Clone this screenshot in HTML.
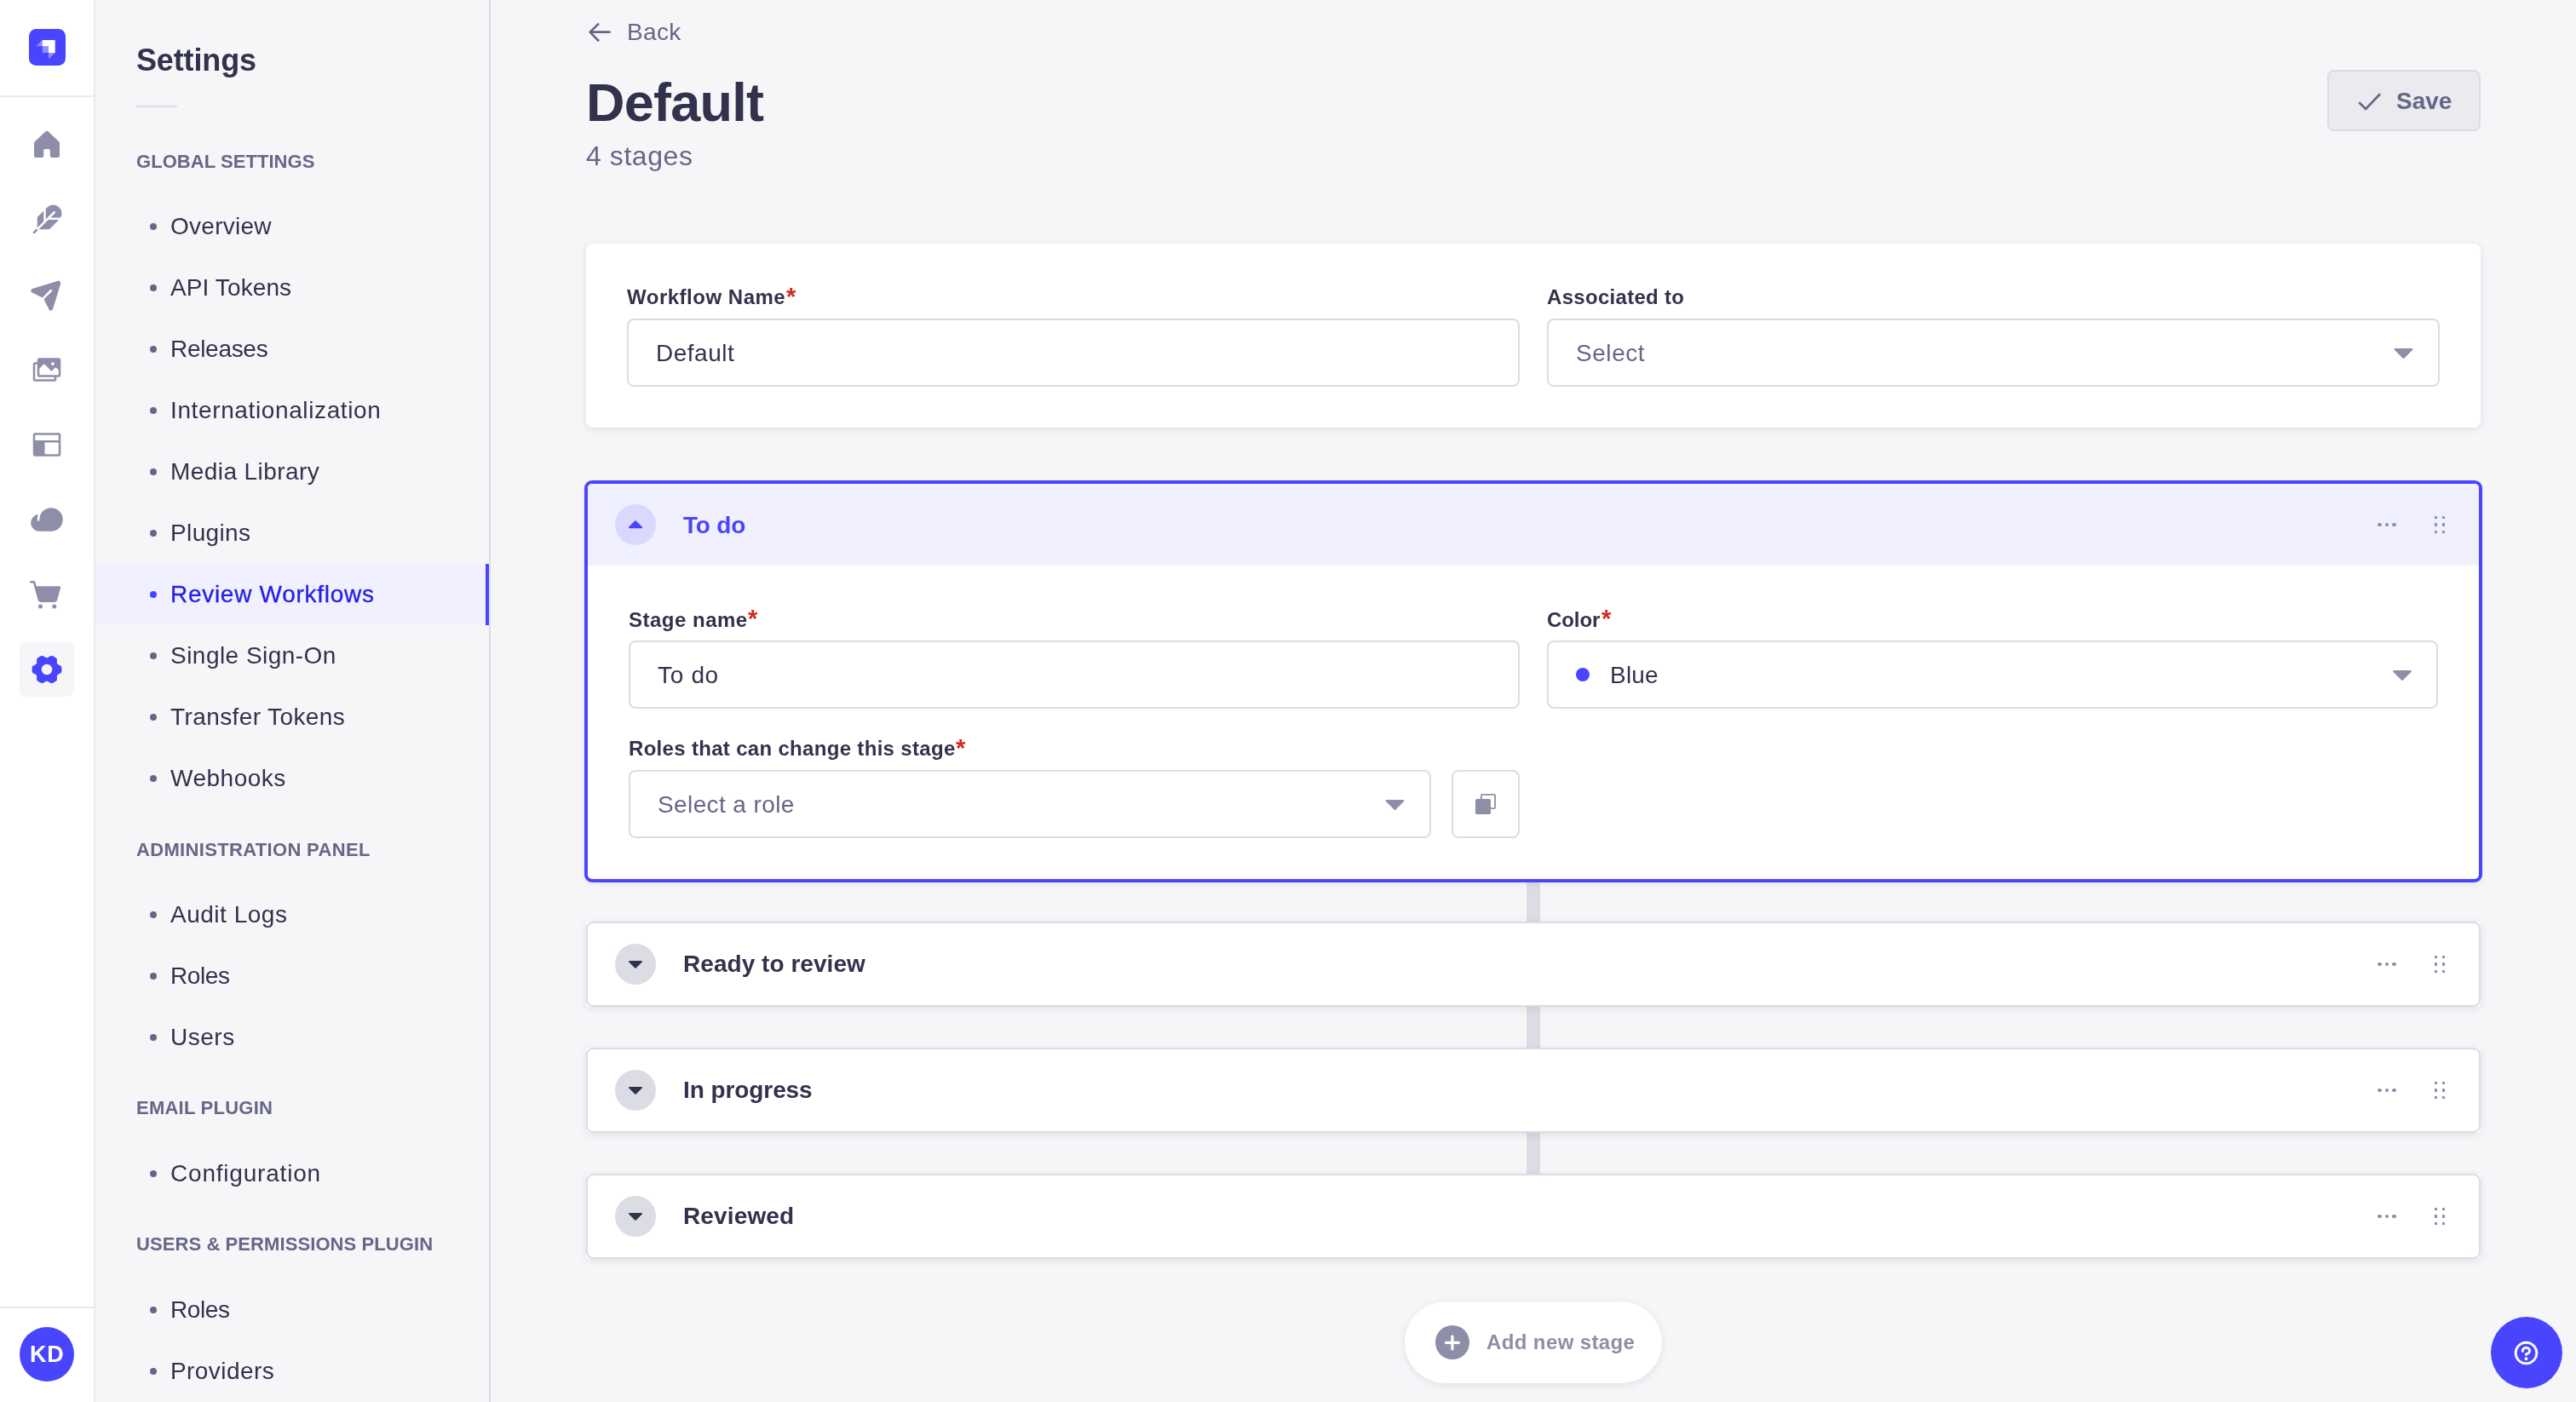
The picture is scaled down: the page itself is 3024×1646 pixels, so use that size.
<!DOCTYPE html>
<html lang="en"><head><meta charset="utf-8"><title>Review Workflows</title>
<style>
*{box-sizing:border-box;margin:0;padding:0}
html,body{width:3024px;height:1646px;overflow:hidden;background:#f6f6f9}
body{font-family:"Liberation Sans",sans-serif;color:#32324d;position:relative}
.abs{position:absolute}
.t{position:absolute;white-space:nowrap;line-height:1;will-change:transform}
#rail{position:absolute;left:0;top:0;width:112px;height:1646px;background:#fff;border-right:2px solid #eaeaef}
.hr{position:absolute;left:0;width:110px;height:2px;background:#eaeaef}
#sub{position:absolute;left:112px;top:0;width:464px;height:1646px;background:#f6f6f9;border-right:2px solid #dcdce4}
.b{position:absolute;left:176px;width:8px;height:8px;border-radius:50%;background:#666687}
.card{position:absolute;background:#fff;border-radius:8px;box-shadow:0 2px 8px rgba(33,33,52,.1)}
.inp{position:absolute;height:80px;border:2px solid #dcdce4;border-radius:8px;background:#fff}
.stage{position:absolute;left:688px;width:2224px;background:#fff;border-radius:4px;box-shadow:0 2px 8px rgba(33,33,52,.1)}
.stage:after{content:'';position:absolute;left:0;top:0;right:0;bottom:0;border:2px solid #dcdce4;border-radius:8px}
.tog{position:absolute;width:48px;height:48px;border-radius:50%;background:#dcdce4}
body.m,body.m html{background:#fff}
body.m *{visibility:hidden}
body.m .t{visibility:visible;color:#000!important}
body.m:not(.m2) .x{visibility:hidden}
body.m2 .t:not(.x){visibility:hidden}
</style></head>
<body>
<div id="rail">
<div class="abs" style="left:34px;top:34px;width:43.2px;height:43.2px;border-radius:8.5px;background:#4945ff"></div>
<svg class="abs" style="left:34px;top:34px;overflow:visible" width="44" height="44" viewBox="0 0 44 44"><path d="M15.8 13H30.7V27.9H23V20.3H15.8z" fill="#fff"/><path d="M8.3 20.35L15.8 13V20.35zM15.8 20.3H23V27.9H15.8zM23 27.9H30.7L23 35.3z" fill="#fff" opacity=".4"/></svg>
<div class="hr" style="top:112px"></div>
<svg class="abs" style="left:35px;top:150.0px" width="40" height="40" viewBox="0 0 256 256" fill="#8e8ea9"><path d="M224,115.55V208a16,16,0,0,1-16,16H168a16,16,0,0,1-16-16V168a8,8,0,0,0-8-8H112a8,8,0,0,0-8,8v40a16,16,0,0,1-16,16H48a16,16,0,0,1-16-16V115.55a16,16,0,0,1,5.17-11.78l80-75.48.11-.11a16,16,0,0,1,21.53,0,1.14,1.14,0,0,0,.11.11l80,75.48A16,16,0,0,1,224,115.55Z"/></svg>
<svg class="abs" style="left:35px;top:238.0px" width="40" height="40" viewBox="0 0 256 256" fill="#8e8ea9"><path d="M221.28,34.75a64,64,0,0,0-90.49,0L60.69,104A15.9,15.9,0,0,0,56,115.31v73.38L26.34,218.34a8,8,0,0,0,11.32,11.32L67.32,200H140.7A15.92,15.92,0,0,0,152,195.32l0,0,69.23-70A64,64,0,0,0,221.28,34.75Z"/><g fill="none" stroke="#fff" stroke-width="16"><path d="M60,196L184,72" stroke-linecap="round"/><path d="M112,40V146"/><path d="M134,120H236"/></g></svg>
<svg class="abs" style="left:35px;top:326.0px" width="40" height="40" viewBox="0 0 256 256" fill="#8e8ea9"><path d="M231.4,44.34s0,.1,0,.15l-58.2,191.94a15.88,15.88,0,0,1-14,11.51q-.69.06-1.38.06a15.86,15.86,0,0,1-14.42-9.15L107,164.15a4,4,0,0,1,.77-4.58l57.92-57.92a8,8,0,0,0-11.31-11.31L96.43,148.26a4,4,0,0,1-4.58.77L17.08,112.64a16,16,0,0,1,2.49-29.8l191.94-58.2.15,0A16,16,0,0,1,231.4,44.34Z"/></svg>
<svg class="abs" style="left:35px;top:414.0px" width="40" height="40" viewBox="0 0 256 256" fill="#8e8ea9"><path d="M216,40H72A16,16,0,0,0,56,56V72H40A16,16,0,0,0,24,88V200a16,16,0,0,0,16,16H184a16,16,0,0,0,16-16V184h16a16,16,0,0,0,16-16V56A16,16,0,0,0,216,40ZM172,72a12,12,0,1,1-12,12A12,12,0,0,1,172,72Zm12,128H40V88H56v80a16,16,0,0,0,16,16H184Zm32-32H72V120.69l30.34-30.35a8,8,0,0,1,11.32,0L163.31,140,189,114.34a8,8,0,0,1,11.31,0L216,130.07V168Z"/></svg>
<svg class="abs" style="left:35px;top:502.0px" width="40" height="40" viewBox="0 0 256 256" fill="#8e8ea9"><path d="M216,40H40A16,16,0,0,0,24,56V200a16,16,0,0,0,16,16H216a16,16,0,0,0,16-16V56A16,16,0,0,0,216,40Zm0,16V96H40V56Zm0,144H112V112H216v88Z"/></svg>
<svg class="abs" style="left:35px;top:590.0px" width="40" height="40" viewBox="0 0 256 256" fill="#8e8ea9"><path d="M160.06,40A88.1,88.1,0,0,0,81.29,88.68,64,64,0,1,0,72,216h88.06a88,88,0,0,0,0-176Z"/><path d="M78,76A96,96,0,0,0,64,131" fill="none" stroke="#fff" stroke-width="16" stroke-linecap="round"/></svg>
<svg class="abs" style="left:35px;top:678.0px" width="40" height="40" viewBox="0 0 256 256" fill="#8e8ea9"><g transform="translate(-8,1)"><path d="M104,216a16,16,0,1,1-16-16A16,16,0,0,1,104,216Zm88-16a16,16,0,1,0,16,16A16,16,0,0,0,192,200ZM239.71,74.14l-25.64,92.28A24.06,24.06,0,0,1,191,184H92.16A24.06,24.06,0,0,1,69,166.42L33.92,40H16a8,8,0,0,1,0-16H40a8,8,0,0,1,7.71,5.86L57.19,64H232a8,8,0,0,1,7.71,10.14Z"/></g></svg>
<div class="abs" style="left:23px;top:754px;width:64px;height:64px;border-radius:8px;background:#f6f6f9"></div>
<svg class="abs" style="left:35px;top:766.0px" width="40" height="40" viewBox="0 0 256 256" fill="#4945ff"><path d="M237.94,107.21a8,8,0,0,0-3.89-5.4l-29.83-17-.12-33.62a8,8,0,0,0-2.83-6.08,111.91,111.91,0,0,0-36.72-20.67,8,8,0,0,0-6.46.59L128,41.85,97.88,25a8,8,0,0,0-6.47-.6A111.92,111.92,0,0,0,54.73,45.15a8,8,0,0,0-2.83,6.07l-.15,33.65-29.83,17a8,8,0,0,0-3.89,5.4,106.47,106.47,0,0,0,0,41.56,8,8,0,0,0,3.89,5.4l29.83,17,.12,33.63a8,8,0,0,0,2.83,6.08,111.91,111.91,0,0,0,36.72,20.67,8,8,0,0,0,6.46-.59L128,214.15,158.12,231a7.91,7.91,0,0,0,3.9,1,8.09,8.09,0,0,0,2.57-.42,112.1,112.1,0,0,0,36.68-20.73,8,8,0,0,0,2.83-6.07l.15-33.65,29.83-17a8,8,0,0,0,3.89-5.4A106.47,106.47,0,0,0,237.94,107.21ZM128,168a40,40,0,1,1,40-40A40,40,0,0,1,128,168Z"/></svg>
<div class="hr" style="top:1534px"></div>
<div class="abs" style="left:23px;top:1558px;width:64px;height:64px;border-radius:50%;background:#4945ff"></div>
</div>
<div id="sub"></div>
<div class="abs" style="left:160px;top:124px;width:48px;height:2px;background:#dcdce4"></div>
<div class="abs" style="left:112px;top:662px;width:462px;height:72px;background:#f0f0ff"></div>
<div class="abs" style="left:570px;top:662px;width:4px;height:72px;background:#4945ff"></div>
<div class="b" style="top:262px"></div>
<div class="b" style="top:334px"></div>
<div class="b" style="top:406px"></div>
<div class="b" style="top:478px"></div>
<div class="b" style="top:550px"></div>
<div class="b" style="top:622px"></div>
<div class="b" style="top:694px;background:#4945ff"></div>
<div class="b" style="top:766px"></div>
<div class="b" style="top:838px"></div>
<div class="b" style="top:910px"></div>
<div class="b" style="top:1070px"></div>
<div class="b" style="top:1142px"></div>
<div class="b" style="top:1214px"></div>
<div class="b" style="top:1374px"></div>
<div class="b" style="top:1534px"></div>
<div class="b" style="top:1606px"></div>

<svg class="abs" style="left:0;top:0;overflow:visible" width="1" height="1"><path d="M716.6 37.6H693M703 27.6L692.6 37.6L703 48.3" fill="none" stroke="#666687" stroke-width="2.7" stroke-linejoin="round"/></svg>

<div class="abs" style="left:2731.5px;top:82px;width:180.5px;height:72px;border:2px solid #dcdce4;border-radius:8px;background:#eaeaef"></div>
<svg class="abs" style="left:0;top:0;overflow:visible" width="1" height="1"><path d="M2769.3 120.2L2777.2 127.9L2794.1 110.3" fill="none" stroke="#666687" stroke-width="2.7"/></svg>

<div class="card" style="left:688px;top:286px;width:2224px;height:216px"></div>
<div class="inp" style="left:736px;top:374px;width:1048px"></div>
<div class="inp" style="left:1816px;top:374px;width:1048px"></div>
<svg class="abs" style="left:0;top:0;overflow:visible" width="1" height="1"><path d="M2811.6,409.95 L2821.5,420.05 L2831.4,409.95 Z" fill="#8e8ea9" stroke="#8e8ea9" stroke-width="2" stroke-linejoin="round"/></svg>

<div class="abs" style="left:1792.3px;top:1030px;width:15.5px;height:400px;background:#dcdce4"></div>

<div class="abs" style="left:686px;top:564px;width:2228px;height:472px;border:4px solid #4945ff;border-radius:9px;background:#fff;overflow:hidden;box-shadow:0 2px 8px -2px rgba(33,33,52,.1)"><div class="abs" style="left:0;top:0;width:2220px;height:96px;background:#f0f0ff"></div></div>
<div class="tog" style="left:722px;top:592px;background:#d9d8ff"></div>
<svg class="abs" style="left:0;top:0;overflow:visible" width="1" height="1"><path d="M739.0,619.2 L746,612.2 L753.0,619.2 Z" fill="#4945ff" stroke="#4945ff" stroke-width="2" stroke-linejoin="round"/></svg>
<div class="abs" style="left:2791.4px;top:613.9px;width:4.2px;height:4.2px;border-radius:50%;background:#8e8ea9"></div><div class="abs" style="left:2799.9px;top:613.9px;width:4.2px;height:4.2px;border-radius:50%;background:#8e8ea9"></div><div class="abs" style="left:2808.4px;top:613.9px;width:4.2px;height:4.2px;border-radius:50%;background:#8e8ea9"></div><div class="abs" style="left:2857.55px;top:605.80px;width:3.6px;height:3.6px;border-radius:.6px;background:#8e8ea9"></div><div class="abs" style="left:2857.55px;top:614.30px;width:3.6px;height:3.6px;border-radius:.6px;background:#8e8ea9"></div><div class="abs" style="left:2857.55px;top:622.80px;width:3.6px;height:3.6px;border-radius:.6px;background:#8e8ea9"></div><div class="abs" style="left:2866.65px;top:605.80px;width:3.6px;height:3.6px;border-radius:.6px;background:#8e8ea9"></div><div class="abs" style="left:2866.65px;top:614.30px;width:3.6px;height:3.6px;border-radius:.6px;background:#8e8ea9"></div><div class="abs" style="left:2866.65px;top:622.80px;width:3.6px;height:3.6px;border-radius:.6px;background:#8e8ea9"></div>
<div class="inp" style="left:738px;top:752px;width:1046px"></div>
<div class="inp" style="left:1816px;top:752px;width:1046px"></div>
<div class="abs" style="left:1850px;top:784px;width:16px;height:16px;border-radius:50%;background:#4945ff"></div>
<svg class="abs" style="left:0;top:0;overflow:visible" width="1" height="1"><path d="M2810.1,787.95 L2820,798.05 L2829.9,787.95 Z" fill="#8e8ea9" stroke="#8e8ea9" stroke-width="2" stroke-linejoin="round"/></svg>
<div class="inp" style="left:738px;top:904px;width:942px"></div>
<svg class="abs" style="left:0;top:0;overflow:visible" width="1" height="1"><path d="M1627.6,939.95 L1637.5,950.05 L1647.4,939.95 Z" fill="#8e8ea9" stroke="#8e8ea9" stroke-width="2" stroke-linejoin="round"/></svg>
<div class="inp" style="left:1704px;top:904px;width:80px"></div>
<svg class="abs" style="left:1732px;top:932px" width="24" height="24" viewBox="0 0 24 24"><rect x="6.9" y="0.9" width="16.2" height="16.2" rx="1.4" fill="none" stroke="#8e8ea9" stroke-width="1.8"/><rect x="0" y="6" width="18" height="18" rx="1.6" fill="#8e8ea9"/></svg>

<div class="stage" style="top:1082px;height:100px"></div><div class="tog" style="left:722px;top:1108px"></div><svg class="abs" style="left:0;top:0;overflow:visible" width="1" height="1"><path d="M739.0,1128.9 L746,1135.9 L753.0,1128.9 Z" fill="#32324d" stroke="#32324d" stroke-width="2" stroke-linejoin="round"/></svg><div class="abs" style="left:2791.4px;top:1129.9px;width:4.2px;height:4.2px;border-radius:50%;background:#8e8ea9"></div><div class="abs" style="left:2799.9px;top:1129.9px;width:4.2px;height:4.2px;border-radius:50%;background:#8e8ea9"></div><div class="abs" style="left:2808.4px;top:1129.9px;width:4.2px;height:4.2px;border-radius:50%;background:#8e8ea9"></div><div class="abs" style="left:2857.55px;top:1121.70px;width:3.6px;height:3.6px;border-radius:.6px;background:#8e8ea9"></div><div class="abs" style="left:2857.55px;top:1130.20px;width:3.6px;height:3.6px;border-radius:.6px;background:#8e8ea9"></div><div class="abs" style="left:2857.55px;top:1138.70px;width:3.6px;height:3.6px;border-radius:.6px;background:#8e8ea9"></div><div class="abs" style="left:2866.65px;top:1121.70px;width:3.6px;height:3.6px;border-radius:.6px;background:#8e8ea9"></div><div class="abs" style="left:2866.65px;top:1130.20px;width:3.6px;height:3.6px;border-radius:.6px;background:#8e8ea9"></div><div class="abs" style="left:2866.65px;top:1138.70px;width:3.6px;height:3.6px;border-radius:.6px;background:#8e8ea9"></div>
<div class="stage" style="top:1230px;height:100px"></div><div class="tog" style="left:722px;top:1256px"></div><svg class="abs" style="left:0;top:0;overflow:visible" width="1" height="1"><path d="M739.0,1276.9 L746,1283.9 L753.0,1276.9 Z" fill="#32324d" stroke="#32324d" stroke-width="2" stroke-linejoin="round"/></svg><div class="abs" style="left:2791.4px;top:1277.9px;width:4.2px;height:4.2px;border-radius:50%;background:#8e8ea9"></div><div class="abs" style="left:2799.9px;top:1277.9px;width:4.2px;height:4.2px;border-radius:50%;background:#8e8ea9"></div><div class="abs" style="left:2808.4px;top:1277.9px;width:4.2px;height:4.2px;border-radius:50%;background:#8e8ea9"></div><div class="abs" style="left:2857.55px;top:1269.70px;width:3.6px;height:3.6px;border-radius:.6px;background:#8e8ea9"></div><div class="abs" style="left:2857.55px;top:1278.20px;width:3.6px;height:3.6px;border-radius:.6px;background:#8e8ea9"></div><div class="abs" style="left:2857.55px;top:1286.70px;width:3.6px;height:3.6px;border-radius:.6px;background:#8e8ea9"></div><div class="abs" style="left:2866.65px;top:1269.70px;width:3.6px;height:3.6px;border-radius:.6px;background:#8e8ea9"></div><div class="abs" style="left:2866.65px;top:1278.20px;width:3.6px;height:3.6px;border-radius:.6px;background:#8e8ea9"></div><div class="abs" style="left:2866.65px;top:1286.70px;width:3.6px;height:3.6px;border-radius:.6px;background:#8e8ea9"></div>
<div class="stage" style="top:1378px;height:100px"></div><div class="tog" style="left:722px;top:1404px"></div><svg class="abs" style="left:0;top:0;overflow:visible" width="1" height="1"><path d="M739.0,1424.9 L746,1431.9 L753.0,1424.9 Z" fill="#32324d" stroke="#32324d" stroke-width="2" stroke-linejoin="round"/></svg><div class="abs" style="left:2791.4px;top:1425.9px;width:4.2px;height:4.2px;border-radius:50%;background:#8e8ea9"></div><div class="abs" style="left:2799.9px;top:1425.9px;width:4.2px;height:4.2px;border-radius:50%;background:#8e8ea9"></div><div class="abs" style="left:2808.4px;top:1425.9px;width:4.2px;height:4.2px;border-radius:50%;background:#8e8ea9"></div><div class="abs" style="left:2857.55px;top:1417.70px;width:3.6px;height:3.6px;border-radius:.6px;background:#8e8ea9"></div><div class="abs" style="left:2857.55px;top:1426.20px;width:3.6px;height:3.6px;border-radius:.6px;background:#8e8ea9"></div><div class="abs" style="left:2857.55px;top:1434.70px;width:3.6px;height:3.6px;border-radius:.6px;background:#8e8ea9"></div><div class="abs" style="left:2866.65px;top:1417.70px;width:3.6px;height:3.6px;border-radius:.6px;background:#8e8ea9"></div><div class="abs" style="left:2866.65px;top:1426.20px;width:3.6px;height:3.6px;border-radius:.6px;background:#8e8ea9"></div><div class="abs" style="left:2866.65px;top:1434.70px;width:3.6px;height:3.6px;border-radius:.6px;background:#8e8ea9"></div>

<div class="abs" style="left:1649px;top:1528px;width:302px;height:96px;border-radius:48px;background:#fff;box-shadow:0 2px 8px rgba(33,33,52,.1)"></div>
<div class="abs" style="left:1685.2px;top:1556.3px;width:39.5px;height:39.5px;border-radius:50%;background:#8e8ea9"></div>
<svg class="abs" style="left:0;top:0;overflow:visible" width="1" height="1"><path d="M1704.9 1568.8V1583.8M1697.4 1576.3H1712.4" stroke="#fff" stroke-width="3.2" stroke-linecap="round"/></svg>

<div class="abs" style="left:2924px;top:1546px;width:84px;height:84px;border-radius:50%;background:#4945ff"></div>
<svg class="abs" style="left:2948.9px;top:1571.6px" width="33" height="33" viewBox="0 0 256 256" fill="#fff" stroke="#fff" stroke-width="7" stroke-linejoin="round"><path d="M140,180a12,12,0,1,1-12-12A12,12,0,0,1,140,180ZM128,72c-22.06,0-40,16.15-40,36v4a8,8,0,0,0,16,0v-4c0-11,10.77-20,24-20s24,9,24,20-10.77,20-24,20a8,8,0,0,0-8,8v8a8,8,0,0,0,16,0v-.72c18.24-3.35,32-17.9,32-35.28C168,88.15,150.06,72,128,72Zm104,56A104,104,0,1,1,128,24,104.11,104.11,0,0,1,232,128Zm-16,0a88,88,0,1,0-88,88A88.1,88.1,0,0,0,216,128Z"/></svg>

<div class="t" id="settings" style="left:160.00px;top:52.53px;font-size:36px;font-weight:bold;color:#32324d;letter-spacing:-0.143px">Settings</div>
<div class="t" id="s1" style="left:160.00px;top:178.68px;font-size:22px;font-weight:bold;color:#666687;letter-spacing:0.057px">GLOBAL SETTINGS</div>
<div class="t" id="g0" style="left:200.00px;top:252.30px;font-size:28px;font-weight:normal;color:#32324d;letter-spacing:0.271px">Overview</div>
<div class="t" id="g1" style="left:200.00px;top:324.30px;font-size:28px;font-weight:normal;color:#32324d;letter-spacing:0.111px">API Tokens</div>
<div class="t" id="g2" style="left:200.00px;top:396.30px;font-size:28px;font-weight:normal;color:#32324d;letter-spacing:-0.300px">Releases</div>
<div class="t" id="g3" style="left:200.00px;top:468.30px;font-size:28px;font-weight:normal;color:#32324d;letter-spacing:0.621px">Internationalization</div>
<div class="t" id="g4" style="left:200.00px;top:540.30px;font-size:28px;font-weight:normal;color:#32324d;letter-spacing:0.425px">Media Library</div>
<div class="t" id="g5" style="left:200.00px;top:612.30px;font-size:28px;font-weight:normal;color:#32324d;letter-spacing:0.367px">Plugins</div>
<div class="t" id="g6" style="left:200.00px;top:684.30px;font-size:28px;font-weight:normal;color:#271fe0;letter-spacing:0.713px;-webkit-text-stroke:.35px #271fe0">Review Workflows</div>
<div class="t" id="g7" style="left:200.00px;top:756.30px;font-size:28px;font-weight:normal;color:#32324d;letter-spacing:0.469px">Single Sign-On</div>
<div class="t" id="g8" style="left:200.00px;top:828.30px;font-size:28px;font-weight:normal;color:#32324d;letter-spacing:0.400px">Transfer Tokens</div>
<div class="t" id="g9" style="left:200.00px;top:900.30px;font-size:28px;font-weight:normal;color:#32324d;letter-spacing:0.500px">Webhooks</div>
<div class="t" id="s2" style="left:160.00px;top:986.68px;font-size:22px;font-weight:bold;color:#666687;letter-spacing:0.332px">ADMINISTRATION PANEL</div>
<div class="t" id="a0" style="left:200.00px;top:1060.30px;font-size:28px;font-weight:normal;color:#32324d;letter-spacing:0.511px">Audit Logs</div>
<div class="t" id="a1" style="left:200.00px;top:1132.30px;font-size:28px;font-weight:normal;color:#32324d;letter-spacing:-0.400px">Roles</div>
<div class="t" id="a2" style="left:200.00px;top:1204.30px;font-size:28px;font-weight:normal;color:#32324d;letter-spacing:0.525px">Users</div>
<div class="t" id="s3" style="left:160.00px;top:1290.48px;font-size:22px;font-weight:bold;color:#666687;letter-spacing:0.236px">EMAIL PLUGIN</div>
<div class="t" id="e0" style="left:200.00px;top:1364.30px;font-size:28px;font-weight:normal;color:#32324d;letter-spacing:0.800px">Configuration</div>
<div class="t" id="s4" style="left:160.00px;top:1450.48px;font-size:22px;font-weight:bold;color:#666687;letter-spacing:0.084px">USERS &amp; PERMISSIONS PLUGIN</div>
<div class="t" id="u0" style="left:200.00px;top:1524.30px;font-size:28px;font-weight:normal;color:#32324d;letter-spacing:-0.400px">Roles</div>
<div class="t" id="u1" style="left:200.00px;top:1596.30px;font-size:28px;font-weight:normal;color:#32324d;letter-spacing:0.425px">Providers</div>
<div class="t" id="kd" style="left:35.00px;top:1576.94px;font-size:27px;font-weight:bold;color:#fff;letter-spacing:0.700px">KD</div>
<div class="t" id="back" style="left:736.00px;top:24.30px;font-size:28px;font-weight:normal;color:#666687;letter-spacing:0.333px">Back</div>
<div class="t" id="h1" style="left:688.00px;top:88.67px;font-size:63px;font-weight:bold;color:#32324d;letter-spacing:-0.767px">Default</div>
<div class="t" id="stages" style="left:688.00px;top:166.91px;font-size:32px;font-weight:normal;color:#666687;letter-spacing:0.571px">4 stages</div>
<div class="t" id="save" style="left:2813.00px;top:104.80px;font-size:28px;font-weight:bold;color:#666687;letter-spacing:0.000px">Save</div>
<div class="t" id="l1" style="left:736.00px;top:337.28px;font-size:24px;font-weight:bold;color:#32324d;letter-spacing:0.508px">Workflow Name</div>
<div class="t" id="v1" style="left:770.00px;top:401.10px;font-size:28px;font-weight:normal;color:#32324d;letter-spacing:0.517px">Default</div>
<div class="t" id="l2" style="left:1816.00px;top:337.28px;font-size:24px;font-weight:bold;color:#32324d;letter-spacing:0.300px">Associated to</div>
<div class="t" id="v2" style="left:1850.00px;top:401.10px;font-size:28px;font-weight:normal;color:#666687;letter-spacing:0.560px">Select</div>
<div class="t" id="st1" style="left:802.00px;top:602.80px;font-size:28px;font-weight:bold;color:#4945ff;letter-spacing:-0.200px">To do</div>
<div class="t" id="l3" style="left:738.00px;top:715.78px;font-size:24px;font-weight:bold;color:#32324d;letter-spacing:0.500px">Stage name</div>
<div class="t" id="v3" style="left:772.00px;top:778.50px;font-size:28px;font-weight:normal;color:#32324d;letter-spacing:0.675px">To do</div>
<div class="t" id="l4" style="left:1816.00px;top:715.78px;font-size:24px;font-weight:bold;color:#32324d;letter-spacing:-0.075px">Color</div>
<div class="t" id="v4" style="left:1889.50px;top:778.50px;font-size:28px;font-weight:normal;color:#32324d;letter-spacing:0.200px">Blue</div>
<div class="t" id="l5" style="left:738.00px;top:867.18px;font-size:24px;font-weight:bold;color:#32324d;letter-spacing:0.316px">Roles that can change this stage</div>
<div class="t" id="v5" style="left:772.00px;top:931.10px;font-size:28px;font-weight:normal;color:#666687;letter-spacing:0.392px">Select a role</div>
<div class="t" id="st2" style="left:802.00px;top:1117.90px;font-size:28px;font-weight:bold;color:#32324d;letter-spacing:0.043px">Ready to review</div>
<div class="t" id="st3" style="left:802.00px;top:1265.90px;font-size:28px;font-weight:bold;color:#32324d;letter-spacing:-0.080px">In progress</div>
<div class="t" id="st4" style="left:802.00px;top:1414.10px;font-size:28px;font-weight:bold;color:#32324d;letter-spacing:0.143px">Reviewed</div>
<div class="t" id="add" style="left:1745.00px;top:1563.58px;font-size:24px;font-weight:bold;color:#8e8ea9;letter-spacing:0.383px">Add new stage</div>
<div class="t x" id="x1" style="left:923.00px;top:333.85px;font-size:29px;font-weight:bold;color:#d02b20;letter-spacing:0.000px">*</div>
<div class="t x" id="x3" style="left:878.00px;top:712.35px;font-size:29px;font-weight:bold;color:#d02b20;letter-spacing:0.000px">*</div>
<div class="t x" id="x4" style="left:1880.00px;top:712.35px;font-size:29px;font-weight:bold;color:#d02b20;letter-spacing:0.000px">*</div>
<div class="t x" id="x5" style="left:1122.00px;top:863.75px;font-size:29px;font-weight:bold;color:#d02b20;letter-spacing:0.000px">*</div>
</body></html>
